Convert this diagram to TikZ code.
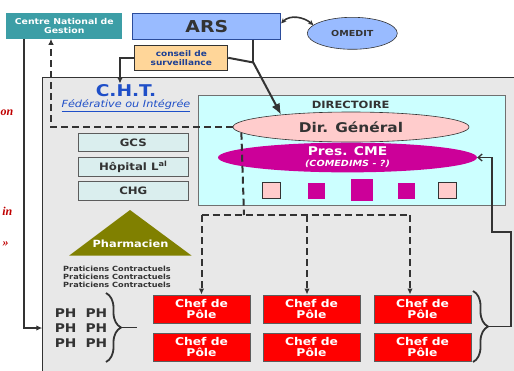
\documentclass[tikz,border=0pt]{standalone}
\usepackage{fontspec}
\setmainfont{DejaVu Sans}[FakeStretch=1.15]
\newfontfamily\notefont{Liberation Serif}
\usetikzlibrary{arrows.meta,shapes.geometric,decorations.pathreplacing}
\definecolor{Ink}{HTML}{333333}
\definecolor{Teal}{HTML}{3C9EA6}
\definecolor{ArsBlue}{HTML}{99BBFF}
\definecolor{ArsLine}{HTML}{2B4C9B}
\definecolor{CsFill}{HTML}{FFD699}
\definecolor{CsText}{HTML}{1C3F94}
\definecolor{ChtBlue}{HTML}{1F4FC8}
\definecolor{EtabGrey}{HTML}{E8E8E8}
\definecolor{DirCyan}{HTML}{CCFFFF}
\definecolor{DgPink}{HTML}{FFCCCC}
\definecolor{CmeMagenta}{HTML}{CC0099}
\definecolor{HospFill}{HTML}{DAEEEE}
\definecolor{PharmOlive}{HTML}{808000}
\definecolor{ChefRed}{HTML}{FF0000}
\definecolor{NoteRed}{HTML}{C00000}

\begin{document}
\begin{tikzpicture}[x=1pt, y=-1pt,
    cngbox/.style={fill=Teal, text=white, minimum width=116, minimum height=26, inner sep=0, align=center, font=\fontsize{8.1}{9.5}\selectfont\bfseries},
    arsbox/.style={fill=ArsBlue, draw=ArsLine, line width=0.8pt, minimum width=148, minimum height=26, inner sep=0, text=Ink, font=\fontsize{16.4}{18}\selectfont\bfseries},
    omeditnode/.style={ellipse, fill=ArsBlue, draw=Ink, line width=0.6pt, minimum width=90, minimum height=32, inner sep=0, text=Ink, font=\fontsize{8.3}{10}\selectfont\bfseries},
    csbox/.style={fill=CsFill, draw=Ink, line width=0.9pt, minimum width=93, minimum height=24.5, inner sep=0, align=center, text=CsText, font=\fontsize{7.8}{9}\selectfont\bfseries},
    etabbox/.style={fill=EtabGrey, draw=Ink, line width=1.1pt, minimum width=490, minimum height=310, inner sep=0, outer sep=0},
    chttitle/.style={text=ChtBlue, inner sep=1, font=\fontsize{16.2}{18}\selectfont\bfseries},
    chtsub/.style={text=ChtBlue, inner sep=1, font=\fontsize{9.8}{11}\selectfont\itshape},
    dirbox/.style={fill=DirCyan, draw=Ink!70, line width=0.9pt, minimum width=306.7, minimum height=110.7, inner sep=0, outer sep=0},
    dirtitle/.style={text=Ink, inner sep=0, font=\fontsize{10}{12}\selectfont\bfseries},
    dgnode/.style={ellipse, fill=DgPink, draw=Ink, line width=0.6pt, minimum width=236, minimum height=30, inner sep=0, text=Ink, font=\fontsize{13.4}{15}\selectfont\bfseries},
    cmenode/.style={ellipse, fill=CmeMagenta, text=white, minimum width=259, minimum height=29, inner sep=0, align=center, font=\fontsize{12}{12}\selectfont\bfseries},
    pinksq/.style={fill=DgPink, draw=Ink, line width=0.7pt, minimum width=18, minimum height=16, inner sep=0},
    magsq/.style={fill=CmeMagenta, minimum width=17, minimum height=16, inner sep=0},
    hospbox/.style={fill=HospFill, draw=Ink!80, line width=0.9pt, minimum width=110, minimum height=18.5, inner sep=0, text=Ink, font=\fontsize{10.2}{12}\selectfont\bfseries},
    pharmtext/.style={text=white, inner sep=0, font=\fontsize{9.9}{11}\selectfont\bfseries},
    prattext/.style={text=Ink, inner sep=0, align=center, font=\fontsize{7.1}{8}\selectfont\bfseries},
    phtext/.style={text=Ink, inner sep=0, align=center, font=\fontsize{12}{15}\selectfont\bfseries},
    chefbox/.style={fill=ChefRed, draw=Ink!80, line width=0.9pt, minimum width=97, minimum height=28, inner sep=0, align=center, text=white, font=\fontsize{10.7}{11.5}\selectfont\bfseries},
    notetext/.style={text=NoteRed, inner sep=0, font=\notefont\fontsize{12}{14}\selectfont\bfseries\itshape},
    conn/.style={draw=Ink, line width=2pt},
    dashline/.style={draw=Ink, line width=2pt, dash pattern=on 7pt off 4pt},
    tip/.style={-{Latex[length=6pt,width=5.5pt]}},
    bigtip/.style={-{Latex[length=11pt,width=9pt]}},
    brace/.style={draw=Ink, line width=1.8pt, decorate, decoration={brace, amplitude=15pt}},
    fbline/.style={draw=Ink, line width=1.3pt, -{Straight Barb[length=4pt,width=7pt]}}
]

\useasboundingbox (0,0) rectangle (514,370);
\clip (0,0) rectangle (514,370);

% tutelle
\node[cngbox] (cng) at (64.3,26.2) {Centre National de\\Gestion};
\node[arsbox] (ars) at (206.8,26.3) {ARS};
\node[omeditnode] (omedit) at (352.3,33.3) {OMEDIT};
\node[csbox] (cs) at (181.3,57.8) {conseil de\\surveillance};

% etablissements
\node[etabbox, anchor=north west] (etab) at (42.3,77.3) {};
\node[chttitle] (cht) at (126,91) {C.H.T.};
\node[chtsub] (chtsub) at (126,106) {\underline{Fédérative ou Intégrée}};

\node[dirbox, anchor=north west] (dir) at (198.3,95) {};
\node[dirtitle] (dirt) at (350.7,104.5) {DIRECTOIRE};
\node[dgnode] (dg) at (351,127) {Dir. Général};
\node[cmenode] (cme) at (347.5,157.5) {Pres. CME\\[-1pt]{\fontsize{8.4}{9}\selectfont\itshape (COMEDIMS - ?)}};

\node[pinksq] (sqa) at (271.8,190.3) {};
\node[magsq] (sqb) at (316.7,190.8) {};
\node[magsq, minimum width=21.5, minimum height=21.5] (sqc) at (362,190) {};
\node[magsq] (sqd) at (406.7,190.8) {};
\node[pinksq] (sqe) at (447.5,190.3) {};

\node[hospbox] (gcs) at (133.3,142.5) {GCS};
\node[hospbox] (hopl) at (133.3,166.7) {Hôpital L\textsuperscript{al}};
\node[hospbox] (chg) at (133.3,190.8) {CHG};

\fill[PharmOlive] (130,210) -- (191.7,255.7) -- (69,255.7) -- cycle;
\node[pharmtext] (pharma) at (130.5,244) {Pharmacien};
\node[prattext] (prat) at (117,277) {Praticiens Contractuels\\Praticiens Contractuels\\Praticiens Contractuels};
\node[phtext] (ph) at (81,328) {PH\hspace{9pt}PH\\PH\hspace{9pt}PH\\PH\hspace{9pt}PH};

\node[chefbox] (c11) at (201.5,309) {Chef de\\Pôle};
\node[chefbox] (c12) at (311.5,309) {Chef de\\Pôle};
\node[chefbox] (c13) at (422.5,309) {Chef de\\Pôle};
\node[chefbox] (c21) at (201.5,347) {Chef de\\Pôle};
\node[chefbox] (c22) at (311.5,347) {Chef de\\Pôle};
\node[chefbox] (c23) at (422.5,347) {Chef de\\Pôle};

\node[notetext, anchor=east] (na) at (13.5,113) {on};
\node[notetext, anchor=east] (nb) at (12.5,211.7) {in};
\node[notetext] (nc) at (5.5,244) {»};

% liens
\coordinate (j) at (253.3,62.5);
\coordinate (cngl) at (24,38.8);
\coordinate (cngd) at (51,38.8);
\coordinate (hub) at (244,215);
\coordinate (tl) at (201.5,215);
\coordinate (tm) at (307,215);
\coordinate (tr) at (410,215);
\coordinate (lbtip) at (121,327.5);
\coordinate (rbtip) at (488,326.5);
\coordinate (fb1) at (511,326.5);
\coordinate (fb2) at (492,232);

\draw[conn, {Stealth[length=5pt,width=5pt]}-{Stealth[length=5pt,width=5pt]}, line width=1.6pt] ([yshift=3pt]ars.east) to[out=45,in=140] (omedit.168);
\draw[conn] (ars.south -| j) -- (j);
\draw[conn] (cs.east) -- (j);
\draw[conn, bigtip] (j) -- (dg.170);
\draw[conn, tip] (cs.west) -| ([xshift=-6pt]cht.north);
\draw[conn, tip] (cngl) |- (etab.west |- ph.center);
\draw[dashline, tip] (dg.west) -| (cngd);

\draw[dashline] (dg.183) -- (hub);
\draw[dashline] (tl) -- (tr);
\draw[dashline, tip] (tl) -- (c11.north);
\draw[dashline, tip] (tm) -- (tm |- c12.north);
\draw[dashline, tip] (tr) -- (tr |- c13.north);

\draw[brace] (106,293) -- (106,362);
\draw[conn, line width=1.8pt] (lbtip) -- ++(16,0);
\draw[brace] (473,291) -- (473,362);
\draw[fbline] (rbtip) -- (fb1) |- (fb2) |- (cme.east);

\end{tikzpicture}
\end{document}
